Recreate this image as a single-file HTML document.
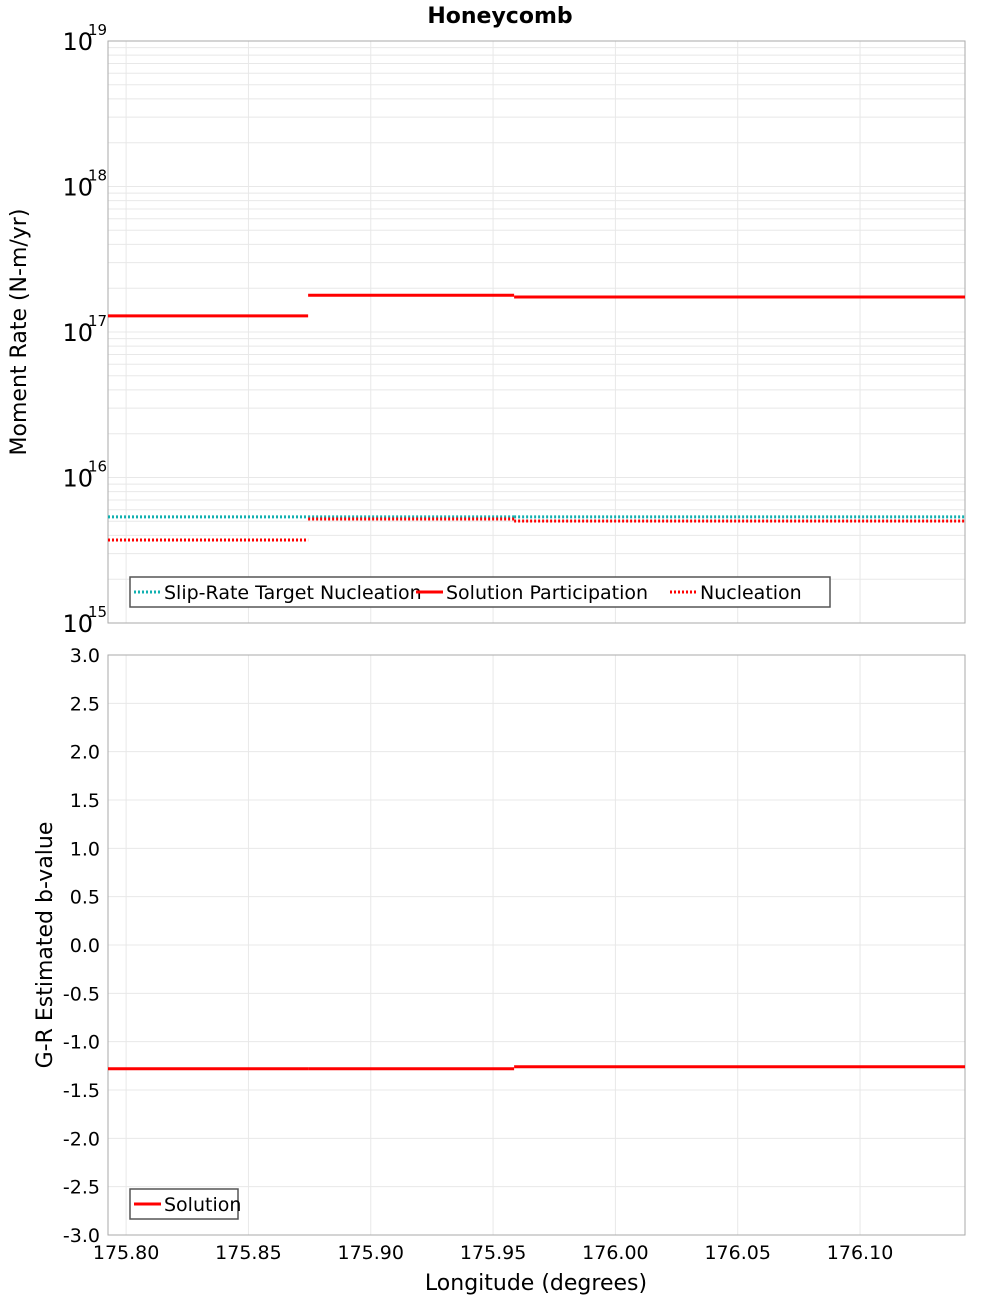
<!DOCTYPE html>
<html><head><meta charset="utf-8"><style>
body{margin:0;background:#fff;}
svg{display:block;font-family:"DejaVu Sans","Liberation Sans",sans-serif;}
</style></head><body>
<svg id="c" width="1000" height="1300" xmlns="http://www.w3.org/2000/svg">
<text x="500" y="23" text-anchor="middle" font-size="22" font-weight="bold">Honeycomb</text>
<text transform="translate(26,332) rotate(-90)" text-anchor="middle" font-size="22">Moment Rate (N-m/yr)</text>
<text transform="translate(52,945) rotate(-90)" text-anchor="middle" font-size="22">G-R Estimated b-value</text>
<text x="536" y="1290" text-anchor="middle" font-size="22">Longitude (degrees)</text>
<g id="topPlot"></g>
<g id="botPlot"></g>
</svg>
<script>
const xTicks = [175.80, 175.85, 175.90, 175.95, 176.00, 176.05, 176.10];
const xTickLabels = ["175.80","175.85","175.90","175.95","176.00","176.05","176.10"];
const segBounds = [175.7926, 175.8744, 175.9586, 176.1429];
const targetNucleation = [5.36e15, 5.36e15, 5.36e15];
const solutionParticipation = [1.29e17, 1.79e17, 1.74e17];
const nucleation = [3.72e15, 5.19e15, 5.02e15];
const bValues = [-1.28, -1.28, -1.26];
const topDecades = [15, 16, 17, 18, 19];
const bTicks = [3.0,2.5,2.0,1.5,1.0,0.5,0.0,-0.5,-1.0,-1.5,-2.0,-2.5,-3.0];

const NS="http://www.w3.org/2000/svg";
const L=108,R=965;
const T1=41,B1=623,T2=655,B2=1235;
const xMin=segBounds[0], xMax=segBounds[segBounds.length-1];
const xs=v=>L+(v-xMin)/(xMax-xMin)*(R-L);
const ysLog=v=>B1-(Math.log10(v)-15)/4*(B1-T1);
const ysB=v=>B2-(v+3)/6*(B2-T2);
function el(p,tag,a,txt){const e=document.createElementNS(NS,tag);for(const k in a)e.setAttribute(k,a[k]);if(txt!==undefined)e.textContent=txt;p.appendChild(e);return e;}
const topG=document.getElementById('topPlot'), botG=document.getElementById('botPlot');

for(let d=15; d<19; d++){for(let m=1;m<10;m++){const y=ysLog(m*Math.pow(10,d));
 const g=el(topG,'line',{x1:L,x2:R,y1:y,y2:y,stroke:'#e8e8e8','stroke-width':1});
 
 }}
xTicks.forEach(v=>{[topG,botG].forEach((p,i)=>{const g=el(p,'line',{x1:xs(v),x2:xs(v),y1:i?T2:T1,y2:i?B2:B1,stroke:'#e8e8e8'});
 
 });});
bTicks.forEach(v=>{const g=el(botG,'line',{x1:L,x2:R,y1:ysB(v),y2:ysB(v),stroke:'#e8e8e8'});
 
 });
[[T1,B1,topG],[T2,B2,botG]].forEach(([t,b,p])=>{const f=el(p,'rect',{x:L,y:t,width:R-L,height:b-t,fill:'none',stroke:'#aaa'});
 
 });
topDecades.forEach(d=>{const y=ysLog(Math.pow(10,d));
 const t=el(topG,'text',{x:93,y:y+9,'text-anchor':'end','font-size':24},'10');
 
 
 const s=el(topG,'text',{x:88,y:y-6,'font-size':15},String(d));
 
 });
bTicks.forEach(v=>{const t=el(botG,'text',{x:100,y:ysB(v)+7,'text-anchor':'end','font-size':19},v.toFixed(1));
 
 });
xTicks.forEach((v,i)=>{const t=el(botG,'text',{x:xs(v),y:1259,'text-anchor':'middle','font-size':19},xTickLabels[i]);
 
 });

function steps(p,vals,ys,stroke,dash,w,name){vals.forEach((v,i)=>{
 const a={x1:xs(segBounds[i]),x2:xs(segBounds[i+1]),y1:ys(v),y2:ys(v),stroke:stroke,'stroke-width':w};
 if(dash)a['stroke-dasharray']=dash;const e=el(p,'line',a);
 
 });}
steps(topG,targetNucleation,ysLog,'#10b0b0','2 2',3,'target-nucleation-segment');
steps(topG,nucleation,ysLog,'#ff0000','2 2',3,'nucleation-segment');
steps(topG,solutionParticipation,ysLog,'#ff0000',null,3,'solution-participation-segment');
steps(botG,bValues,ysB,'#ff0000',null,3,'b-value-segment');

function legend(p,x,y,w,items,name){const g=el(p,'g',{});
 
 
 el(g,'rect',{x:x,y:y,width:w,height:30,fill:'#fff',stroke:'#555','stroke-width':1.5});
 let cx=x+4;items.forEach(([lab,col,dash,tw])=>{const a={x1:cx,x2:cx+27,y1:y+15,y2:y+15,stroke:col,'stroke-width':3};if(dash)a['stroke-dasharray']='2 2';
  el(g,'line',a);const t=el(g,'text',{x:cx+30,y:y+22,'font-size':19},lab);
  
  cx+=30+tw;});}
legend(topG,130,577,700,[["Slip-Rate Target Nucleation","#10b0b0",1,252],["Solution Participation","#ff0000",0,224],["Nucleation","#ff0000",1,110]],'top-legend');
legend(botG,130,1189,108,[["Solution","#ff0000",0,80]],'bottom-legend');
</script>
</body></html>
